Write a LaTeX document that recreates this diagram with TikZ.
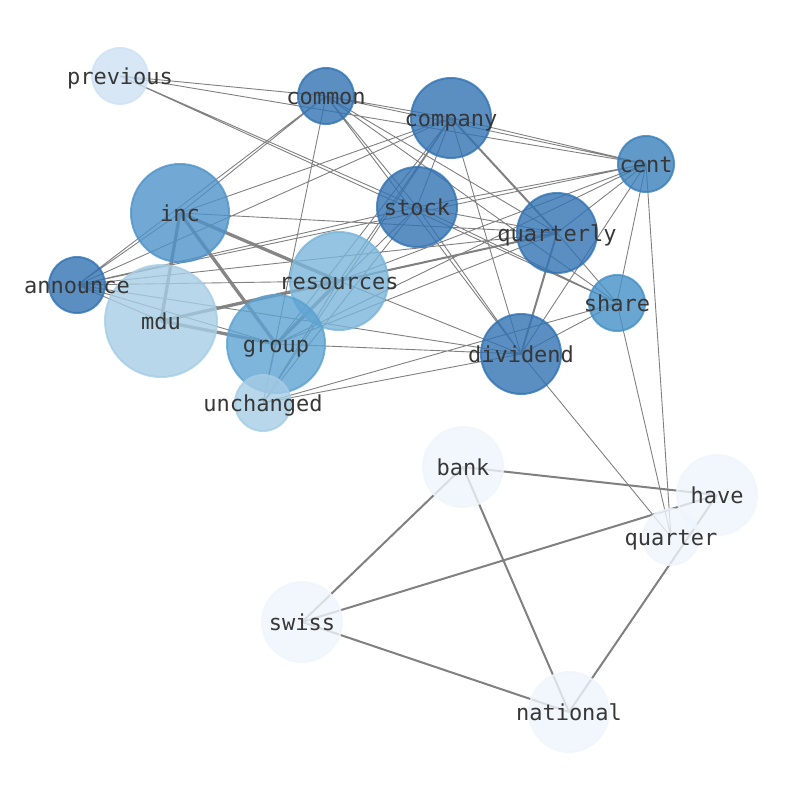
\documentclass[tikz,border=0pt]{standalone}
\usepackage{fontspec}
\newfontfamily\monofnt{DejaVu Sans Mono}
\definecolor{nodeA}{RGB}{50,115,179}
\definecolor{nodeB}{RGB}{57,127,187}
\definecolor{nodeC}{RGB}{69,144,199}
\definecolor{nodeD}{RGB}{79,147,201}
\definecolor{nodeE}{RGB}{92,162,210}
\definecolor{nodeF}{RGB}{121,181,217}
\definecolor{nodeG}{RGB}{166,205,229}
\definecolor{nodeH}{RGB}{206,225,243}
\definecolor{nodeI}{RGB}{239,245,252}
\definecolor{edgegray}{RGB}{128,128,128}
\definecolor{labelgray}{RGB}{55,55,55}
\pgfdeclarelayer{bg}
\pgfdeclarelayer{fg}
\pgfsetlayers{bg,main,fg}

\begin{document}
\begin{tikzpicture}[x=1pt, y=-1pt,
	word/.style={circle, draw=#1, fill=#1, opacity=0.8, line width=2pt, inner sep=0pt},
	lbl/.style={text=labelgray, font=\monofnt\fontsize{22}{26}\selectfont, inner sep=0pt, text height=16.5pt, text depth=0pt},
	wthin/.style={draw=edgegray, line width=0.9pt},
	wmid/.style={draw=edgegray, line width=2pt},
	wbold/.style={draw=edgegray, line width=3.3pt, opacity=0.95}]
	\useasboundingbox (0,0) rectangle (794,790);
	\node[word=nodeH, minimum size=56pt] (previous) at (120,76) {};
	\node[word=nodeA, minimum size=56pt] (common) at (326,96) {};
	\node[word=nodeA, minimum size=80pt] (company) at (451,118) {};
	\node[word=nodeB, minimum size=56pt] (cent) at (646,164) {};
	\node[word=nodeD, minimum size=98pt] (inc) at (180,213) {};
	\node[word=nodeA, minimum size=80pt] (stock) at (417,207) {};
	\node[word=nodeA, minimum size=80pt] (quarterly) at (557,233) {};
	\node[word=nodeA, minimum size=56pt] (announce) at (77,285) {};
	\node[word=nodeG, minimum size=112pt] (mdu) at (161,321) {};
	\node[word=nodeF, minimum size=98pt] (resources) at (339,281) {};
	\node[word=nodeC, minimum size=56pt] (share) at (617,303) {};
	\node[word=nodeE, minimum size=98pt] (group) at (276,344) {};
	\node[word=nodeA, minimum size=80pt] (dividend) at (521,354) {};
	\node[word=nodeG, minimum size=56pt] (unchanged) at (263,403) {};
	\node[word=nodeI, minimum size=80pt] (bank) at (463,467) {};
	\node[word=nodeI, minimum size=80pt] (have) at (717,495) {};
	\node[word=nodeI, minimum size=56pt] (quarter) at (671,537) {};
	\node[word=nodeI, minimum size=80pt] (swiss) at (302,622) {};
	\node[word=nodeI, minimum size=80pt] (national) at (569,712) {};
	\begin{pgfonlayer}{bg}
	\draw[wthin]
		(previous.center) -- (common.center) (previous.center) -- (cent.center)
		(previous.center) -- (stock.center) (previous.center) -- (share.center)
		(common.center) -- (inc.center) (common.center) -- (announce.center)
		(common.center) -- (unchanged.center) (common.center) -- (company.center)
		(common.center) -- (cent.center) (common.center) -- (stock.center)
		(common.center) -- (quarterly.center) (common.center) -- (dividend.center)
		(common.center) -- (share.center)
		(company.center) -- (cent.center) (company.center) -- (announce.center)
		(company.center) -- (inc.center) (company.center) -- (stock.center)
		(company.center) -- (dividend.center) (company.center) -- (group.center)
		(company.center) -- (unchanged.center) (company.center) -- (resources.center)
		(cent.center) -- (announce.center) (cent.center) -- (quarterly.center)
		(cent.center) -- (group.center) (cent.center) -- (dividend.center)
		(cent.center) -- (share.center) (cent.center) -- (quarter.center)
		(cent.center) -- (stock.center) (cent.center) -- (resources.center)
		(inc.center) -- (quarterly.center) (inc.center) -- (announce.center)
		(stock.center) -- (announce.center) (stock.center) -- (group.center)
		(stock.center) -- (unchanged.center) (stock.center) -- (dividend.center)
		(stock.center) -- (share.center) (stock.center) -- (quarterly.center)
		(quarterly.center) -- (group.center) (quarterly.center) -- (announce.center)
		(quarterly.center) -- (mdu.center) (quarterly.center) -- (share.center)
		(resources.center) -- (dividend.center) (resources.center) -- (unchanged.center)
		(resources.center) -- (announce.center)
		(group.center) -- (dividend.center) (group.center) -- (unchanged.center)
		(group.center) -- (announce.center)
		(dividend.center) -- (announce.center) (dividend.center) -- (unchanged.center)
		(dividend.center) -- (share.center) (dividend.center) -- (quarter.center)
		(share.center) -- (quarter.center) (share.center) -- (unchanged.center)
		(announce.center) -- (mdu.center);
	\draw[wmid]
		(company.center) -- (quarterly.center) (quarterly.center) -- (dividend.center)
		(quarterly.center) -- (resources.center)
		(bank.center) -- (have.center) (bank.center) -- (swiss.center)
		(bank.center) -- (national.center) (swiss.center) -- (have.center)
		(swiss.center) -- (national.center) (national.center) -- (have.center);
	\draw[wbold]
		(inc.center) -- (mdu.center) (inc.center) -- (group.center)
		(inc.center) -- (resources.center) (resources.center) -- (group.center)
		(resources.center) -- (mdu.center) (group.center) -- (mdu.center);
	\end{pgfonlayer}
	\begin{pgfonlayer}{fg}
	\node[lbl] at (previous) {previous};
	\node[lbl] at (common) {common};
	\node[lbl] at (company) {company};
	\node[lbl] at (cent) {cent};
	\node[lbl] at (inc) {inc};
	\node[lbl] at (stock) {stock};
	\node[lbl] at (quarterly) {quarterly};
	\node[lbl] at (announce) {announce};
	\node[lbl] at (mdu) {mdu};
	\node[lbl] at (resources) {resources};
	\node[lbl] at (share) {share};
	\node[lbl] at (group) {group};
	\node[lbl] at (dividend) {dividend};
	\node[lbl] at (unchanged) {unchanged};
	\node[lbl] at (bank) {bank};
	\node[lbl] at (have) {have};
	\node[lbl] at (quarter) {quarter};
	\node[lbl] at (swiss) {swiss};
	\node[lbl] at (national) {national};
	\end{pgfonlayer}
\end{tikzpicture}
\end{document}
